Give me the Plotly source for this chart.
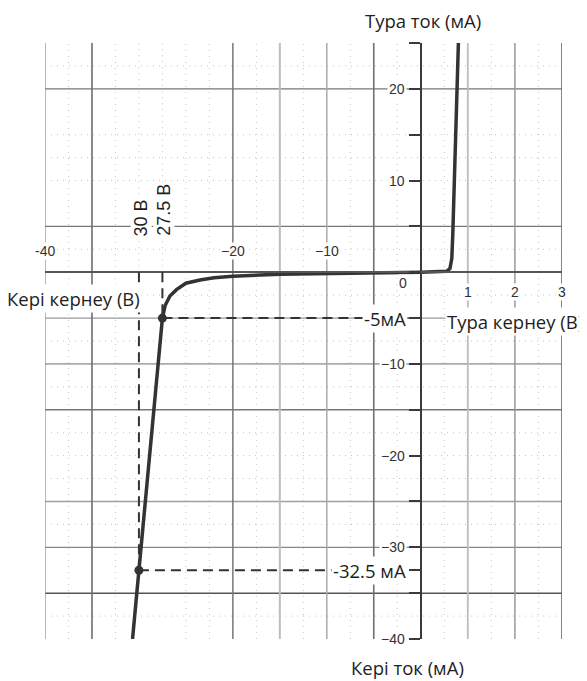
import plotly.graph_objects as go

# ---------------- data ----------------
rev_v = [0, -5, -10, -15, -20, -22, -23.5, -25, -26, -26.7, -27.2, -27.5, -30, -30.68]
rev_i = [0, -0.08, -0.15, -0.22, -0.43, -0.6, -0.85, -1.2, -1.9, -2.6, -3.6, -5, -32.5, -40]
fwd_v = [0, 0.3, 0.55, 0.62, 0.66, 0.68, 0.70, 0.72, 0.745, 0.77, 0.80]
fwd_i = [0, 0.02, 0.1, 0.4, 1.5, 4, 8, 12, 16, 20, 25]
mark_v = [-27.5, -30]
mark_i = [-5, -32.5]
mark_i_labels = ["-5мА", "-32.5 мА"]
mark_v_labels = ["27.5 В", "30 В"]
y_tick_vals = [-40, -30, -20, -10, 10, 20]
y_tick_text = ["\u221240", "\u221230", "\u221220", "\u221210", "10", "20"]
x_neg_ticks = [-40, -20, -10]
x_neg_text = ["-40", "\u221220", "\u221210"]
x_pos_ticks = [1, 2, 3]

# ---------------- geometry ----------------
# the page body has an 8px margin, so the figure is placed at (8, 8)
OFF = 8
W, H = 587 - OFF, 681 - OFF
ML, MR, MT, MB = 45 - OFF, 25, 43 - OFF, 42
neg_px, pos_px = 375.0, 141.0
split = neg_px / (neg_px + pos_px)
y_lo, y_hi = -40, 25
yzero = (0 - y_lo) / (y_hi - y_lo)

fig = go.Figure()

shapes = []
def vline(xref, x, color, width, dash="solid", y0=y_lo, y1=y_hi):
    shapes.append(dict(type="line", xref=xref, yref="y", x0=x, x1=x, y0=y0, y1=y1,
                       line=dict(color=color, width=width, dash=dash), layer="below"))
def hline(y, color, width, dash="solid"):
    shapes.append(dict(type="line", xref="paper", yref="y", x0=0, x1=1, y0=y, y1=y,
                       line=dict(color=color, width=width, dash=dash), layer="below"))

DOT = "1px,5px"
for x in [-37.5, -32.5, -25, -22.5, -17.5, -12.5, -7.5, -2.5]:
    vline("x", x, "#c4c4c4", 1, DOT)
for x in [-30, -27.5]:
    vline("x", x, "#c4c4c4", 1, DOT, 0, y_hi)
for x in [0.5, 1.5, 2.5]:
    vline("x2", x, "#c4c4c4", 1, DOT)
for y in [22.5, 15, 12.5, 10, 2.5, -2.5, -7.5, -12.5, -17.5, -20, -22.5, -27.5, -37.5]:
    hline(y, "#c4c4c4", 1, DOT)

for x, c, w in [(-40, "#8a8a8a", 1.2), (-35, "#6e6e6e", 1.6), (-20, "#777777", 1.5),
                (-15, "#bdbdbd", 2), (-10, "#aaaaaa", 1.5), (-5, "#707070", 1.6)]:
    vline("x", x, c, w)
for x, c, w in [(1, "#bdbdbd", 1.8), (2, "#999999", 1.5), (3, "#666666", 1.6)]:
    vline("x2", x, c, w)
for y, c, w in [(20, "#777777", 1.3), (5, "#777777", 1.3), (-5, "#999999", 1.2),
                (-10, "#aaaaaa", 1.6), (-15, "#777777", 1.4), (-25, "#a0a0a0", 1.5),
                (-30, "#888888", 1.3), (-35, "#555555", 1.5)]:
    hline(y, c, w)

DASH = "10px,6px"
guide = dict(color="#333333", width=2, dash=DASH)
shapes.append(dict(type="line", xref="x", yref="y", x0=mark_v[0], x1=mark_v[0], y0=0, y1=mark_i[0], line=guide))
shapes.append(dict(type="line", xref="x", yref="y", x0=mark_v[1], x1=mark_v[1], y0=0, y1=mark_i[1], line=guide))
shapes.append(dict(type="line", xref="x", yref="y", x0=mark_v[0], x1=-1.3, y0=mark_i[0], y1=mark_i[0], line=guide))
shapes.append(dict(type="line", xref="x", yref="y", x0=mark_v[1], x1=-1.3, y0=mark_i[1], y1=mark_i[1], line=guide))

fig.add_trace(go.Scatter(x=rev_v, y=rev_i, mode="lines", xaxis="x", yaxis="y",
                         line=dict(color="#333333", width=3.5), hoverinfo="skip"))
fig.add_trace(go.Scatter(x=fwd_v, y=fwd_i, mode="lines", xaxis="x2", yaxis="y",
                         line=dict(color="#333333", width=3.5), hoverinfo="skip"))
fig.add_trace(go.Scatter(x=mark_v, y=mark_i, mode="markers", xaxis="x", yaxis="y",
                         marker=dict(color="#333333", size=9), hoverinfo="skip"))

ann = []
tick_font = dict(family="Liberation Sans, Arial, sans-serif", size=14, color="#333333")
for v, t in zip(y_tick_vals, y_tick_text):
    ann.append(dict(xref="x", yref="y", x=-1.45, y=v, text=t, showarrow=False,
                    xanchor="right", yanchor="middle", font=tick_font, bgcolor="white", borderpad=1))
for v, t in zip(x_neg_ticks, x_neg_text):
    ann.append(dict(xref="x", yref="y", x=v, y=2.3, text=t, showarrow=False,
                    xanchor="center", yanchor="middle", font=tick_font, bgcolor="white", borderpad=0))
ann.append(dict(xref="x", yref="y", x=-1.9, y=-1.15, text="0", showarrow=False,
                xanchor="center", yanchor="middle", font=tick_font, bgcolor="white", borderpad=0))
for v in x_pos_ticks:
    ann.append(dict(xref="x2", yref="y", x=v, y=-2.2, text=str(v), showarrow=False,
                    xanchor="center", yanchor="middle", font=tick_font, bgcolor="white", borderpad=0))

lab_font = dict(family="Open Sans, sans-serif", size=18.5, color="#1e1e1e")
for v, t in zip(mark_i, mark_i_labels):
    ann.append(dict(xref="x", yref="y", x=-1.35, y=v, text=t, showarrow=False,
                    xanchor="right", yanchor="middle", font=lab_font, bgcolor="white", borderpad=1))
rot_font = dict(family="Liberation Sans, Arial, sans-serif", size=18, color="#1e1e1e")
for v, t, yc in zip(mark_v, mark_v_labels, [6.85, 5.95]):
    ann.append(dict(xref="x", yref="y", x=v + 0.2, y=yc, text=t, showarrow=False, textangle=-90,
                    xanchor="center", yanchor="middle", font=rot_font, bgcolor="white", borderpad=0))

# helpers: page pixel -> paper coordinates
pw, ph = W - ML - MR, H - MT - MB
def px(xp): return (xp - OFF - ML) / pw
def py(yp): return (H - MB - (yp - OFF)) / ph
ann.append(dict(xref="paper", yref="paper", x=px(423), y=py(20), text="Тура ток (мА)", showarrow=False,
                xanchor="center", yanchor="middle", font=lab_font))
ann.append(dict(xref="paper", yref="paper", x=px(407), y=py(667), text="Кері ток (мА)", showarrow=False,
                xanchor="center", yanchor="middle", font=lab_font))
ann.append(dict(xref="paper", yref="paper", x=px(73), y=py(298), text="Кері кернеу (В)", showarrow=False,
                xanchor="center", yanchor="middle", font=lab_font, bgcolor="white"))
ann.append(dict(xref="paper", yref="paper", x=px(515), y=py(321), text="Тура кернеу (В)", showarrow=False,
                xanchor="center", yanchor="middle", font=lab_font, bgcolor="white"))

fig.update_layout(
    width=W, height=H, margin=dict(l=ML, r=MR, t=MT, b=MB),
    paper_bgcolor="white", plot_bgcolor="white", showlegend=False,
    shapes=shapes, annotations=ann,
    xaxis=dict(domain=[0, split], range=[-40, 0], anchor="free", position=yzero,
               showline=True, linecolor="#555555", linewidth=2, showticklabels=False,
               ticks="", showgrid=False, zeroline=False, fixedrange=True),
    xaxis2=dict(domain=[split, 1], range=[0, 3], anchor="free", position=yzero,
                showline=True, linecolor="#555555", linewidth=2, showticklabels=False,
                ticks="", showgrid=False, zeroline=False, fixedrange=True),
    yaxis=dict(range=[y_lo, y_hi], anchor="free", position=split, side="left",
               showline=True, linecolor="#3a3a3a", linewidth=2,
               ticks="outside", ticklen=11, tickwidth=1.5, tickcolor="#3a3a3a",
               tickvals=list(range(-40, 30, 5)) + [-32.5], showticklabels=False,
               showgrid=False, zeroline=False, fixedrange=True),
)

fig.write_html("out.html")
